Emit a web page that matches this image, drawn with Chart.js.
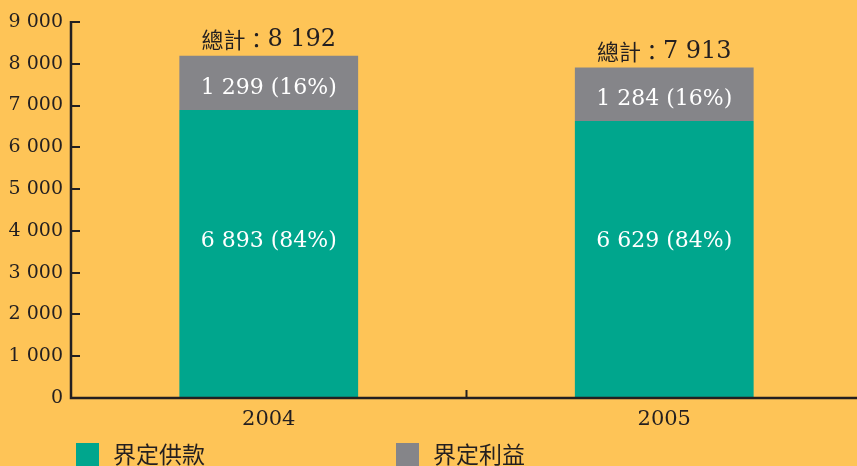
<!DOCTYPE html>
<html>
<head>
<meta charset="utf-8">
<script src="https://cdn.jsdelivr.net/npm/chart.js@4"></script>
<style>
  html, body { margin: 0; padding: 0; background: #fec457; overflow: hidden; }
  #wrap { width: 862px; height: 466px; position: relative; }
</style>
</head>
<body>
<div id="wrap"><canvas id="chart"></canvas></div>
<script>
// Data
const years = ["2004", "2005"];
const seriesNames = ["界定供款", "界定利益"];
const dcValues = [6893, 6629];
const dbValues = [1299, 1284];
const dcShare = [84, 84];
const dbShare = [16, 16];
const totals = [8192, 7913];
const yTicks = [0, 1000, 2000, 3000, 4000, 5000, 6000, 7000, 8000, 9000];

const TEAL = "#00a68d";
const GREY = "#858589";
const INK = "#231f20";
const SERIF = "'DejaVu Serif', serif";
const CJK = "'Noto Sans CJK TC', sans-serif";

// 9 000 style numbers
function fmt(n) {
  return String(n).replace(/\B(?=(\d{3})+(?!\d))/g, " ");
}

// Axis lines and inward tick marks
const axesPlugin = {
  id: "axes",
  afterDraw: (chart) => {
    const { ctx, chartArea, scales } = chart;
    const y = scales.y, x = scales.x;
    ctx.save();
    ctx.strokeStyle = INK;
    ctx.lineWidth = 2.5;
    ctx.beginPath();
    ctx.moveTo(chartArea.left, y.getPixelForValue(9000) - 1);
    ctx.lineTo(chartArea.left, y.getPixelForValue(0));
    ctx.lineTo(chart.width, y.getPixelForValue(0));
    ctx.stroke();
    ctx.lineWidth = 2;
    yTicks.forEach((v) => {
      const py = Math.round(y.getPixelForValue(v));
      ctx.beginPath();
      ctx.moveTo(chartArea.left, py);
      ctx.lineTo(chartArea.left + 9, py);
      ctx.stroke();
    });
    // category divider tick
    const mid = (x.getPixelForValue(0) + x.getPixelForValue(1)) / 2;
    ctx.beginPath();
    ctx.moveTo(mid, y.getPixelForValue(0));
    ctx.lineTo(mid, y.getPixelForValue(0) - 8);
    ctx.stroke();
    ctx.restore();
  },
};

// Segment and total labels
const labelPlugin = {
  id: "labels",
  afterDatasetsDraw: (chart) => {
    const { ctx } = chart;
    const m0 = chart.getDatasetMeta(0);
    const m1 = chart.getDatasetMeta(1);
    // share one baseline for the big segment labels
    const mids = m0.data.map((b) => (b.y + b.base) / 2);
    const dcY = mids.reduce((a, b) => a + b, 0) / mids.length - 15;
    ctx.save();
    ctx.textBaseline = "middle";
    years.forEach((yr, i) => {
      const b0 = m0.data[i], b1 = m1.data[i];
      ctx.textAlign = "center";
      ctx.fillStyle = "#ffffff";
      ctx.font = "22px " + SERIF;
      ctx.fillText(fmt(dcValues[i]) + " (" + dcShare[i] + "%)", b0.x, dcY);
      ctx.fillText(fmt(dbValues[i]) + " (" + dbShare[i] + "%)", b1.x, (b1.y + b1.base) / 2 + 5);

      // total above bar
      const head = "總計：";
      const num = fmt(totals[i]);
      ctx.font = "22px " + CJK;
      const w1 = ctx.measureText(head).width;
      ctx.font = "24px " + SERIF;
      const w2 = ctx.measureText(num).width;
      const start = b1.x - (w1 + w2) / 2;
      const ty = b1.y - 16;
      ctx.fillStyle = INK;
      ctx.textAlign = "left";
      ctx.font = "22px " + CJK;
      ctx.fillText(head, start, ty);
      ctx.font = "24px " + SERIF;
      ctx.fillText(num, start + w1, ty);
    });
    ctx.restore();
  },
};

// Legend along the bottom edge
const legendPlugin = {
  id: "bottomLegend",
  afterDraw: (chart) => {
    const { ctx } = chart;
    const spots = [76, 396];
    ctx.save();
    ctx.font = "23px " + CJK;
    ctx.textBaseline = "alphabetic";
    chart.data.datasets.forEach((ds, i) => {
      ctx.fillStyle = ds.backgroundColor;
      ctx.fillRect(spots[i], 443, 23, 23);
      ctx.fillStyle = INK;
      ctx.fillText(ds.label, spots[i] + 37, 463);
    });
    ctx.restore();
  },
};

new Chart(document.getElementById("chart"), {
  type: "bar",
  data: {
    labels: years,
    datasets: [
      { label: seriesNames[0], data: dcValues, backgroundColor: TEAL },
      { label: seriesNames[1], data: dbValues, backgroundColor: GREY },
    ],
  },
  options: {
    responsive: true,
    maintainAspectRatio: false,
    animation: false,
    layout: { padding: { top: 22, left: 0, right: 0, bottom: 0 } },
    datasets: { bar: { categoryPercentage: 1, barPercentage: 0.452 } },
    plugins: { legend: { display: false }, tooltip: { enabled: false } },
    scales: {
      x: {
        stacked: true,
        grid: { display: false, drawTicks: false },
        border: { display: false },
        ticks: { color: INK, font: { family: SERIF, size: 21 }, padding: 9 },
        afterFit: (s) => { s.height = 68; },
      },
      y: {
        stacked: true,
        min: 0,
        max: 9000,
        grid: { display: false, drawTicks: false },
        border: { display: false },
        ticks: {
          stepSize: 1000,
          color: INK,
          font: { family: SERIF, size: 19 },
          padding: 8,
          callback: (v) => fmt(v),
        },
        afterFit: (s) => { s.width = 71; },
      },
    },
  },
  plugins: [axesPlugin, labelPlugin, legendPlugin],
});
</script>
</body>
</html>
